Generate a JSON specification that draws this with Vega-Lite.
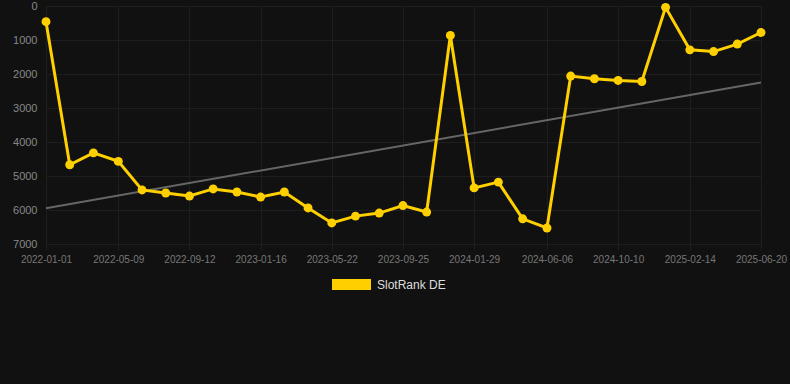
{
  "$schema": "https://vega.github.io/schema/vega-lite/v6.json",
  "width": 715,
  "height": 238,
  "autosize": {"type": "none"},
  "padding": {"left": 46, "top": 6, "right": 29, "bottom": 140},
  "background": "#111111",
  "config": {
    "view": {"stroke": null},
    "font": "Liberation Sans",
    "axis": {"gridColor": "#1e1e1e", "gridWidth": 1, "domain": false, "labelFont": "Liberation Sans"}
  },
  "datasets": {
    "rank": [
      {"date": "2022-01-01", "rank": 460, "series": "SlotRank DE"},
      {"date": "2022-02-12", "rank": 4670, "series": "SlotRank DE"},
      {"date": "2022-03-26", "rank": 4320, "series": "SlotRank DE"},
      {"date": "2022-05-09", "rank": 4570, "series": "SlotRank DE"},
      {"date": "2022-06-20", "rank": 5410, "series": "SlotRank DE"},
      {"date": "2022-08-01", "rank": 5500, "series": "SlotRank DE"},
      {"date": "2022-09-12", "rank": 5590, "series": "SlotRank DE"},
      {"date": "2022-10-24", "rank": 5380, "series": "SlotRank DE"},
      {"date": "2022-12-05", "rank": 5470, "series": "SlotRank DE"},
      {"date": "2023-01-16", "rank": 5620, "series": "SlotRank DE"},
      {"date": "2023-02-27", "rank": 5470, "series": "SlotRank DE"},
      {"date": "2023-04-10", "rank": 5940, "series": "SlotRank DE"},
      {"date": "2023-05-22", "rank": 6380, "series": "SlotRank DE"},
      {"date": "2023-07-03", "rank": 6180, "series": "SlotRank DE"},
      {"date": "2023-08-14", "rank": 6090, "series": "SlotRank DE"},
      {"date": "2023-09-25", "rank": 5870, "series": "SlotRank DE"},
      {"date": "2023-11-06", "rank": 6060, "series": "SlotRank DE"},
      {"date": "2023-12-18", "rank": 865, "series": "SlotRank DE"},
      {"date": "2024-01-29", "rank": 5350, "series": "SlotRank DE"},
      {"date": "2024-03-12", "rank": 5180, "series": "SlotRank DE"},
      {"date": "2024-04-24", "rank": 6260, "series": "SlotRank DE"},
      {"date": "2024-06-06", "rank": 6530, "series": "SlotRank DE"},
      {"date": "2024-07-18", "rank": 2060, "series": "SlotRank DE"},
      {"date": "2024-08-29", "rank": 2140, "series": "SlotRank DE"},
      {"date": "2024-10-10", "rank": 2190, "series": "SlotRank DE"},
      {"date": "2024-11-21", "rank": 2220, "series": "SlotRank DE"},
      {"date": "2025-01-02", "rank": 40, "series": "SlotRank DE"},
      {"date": "2025-02-14", "rank": 1290, "series": "SlotRank DE"},
      {"date": "2025-03-28", "rank": 1340, "series": "SlotRank DE"},
      {"date": "2025-05-09", "rank": 1120, "series": "SlotRank DE"},
      {"date": "2025-06-20", "rank": 780, "series": "SlotRank DE"}
    ],
    "trend": [
      {"date": "2022-01-01", "rank": 5950},
      {"date": "2025-06-20", "rank": 2250}
    ]
  },
  "encoding": {
    "x": {
      "field": "date",
      "type": "temporal",
      "title": null,
      "scale": {
        "type": "utc",
        "nice": false,
        "domain": [
          {"year": 2022, "month": 1, "date": 1, "utc": true},
          {"year": 2025, "month": 6, "date": 20, "utc": true}
        ]
      },
      "axis": {
        "format": "%Y-%m-%d",
        "values": [
          {"year": 2022, "month": 1, "date": 1, "utc": true},
          {"year": 2022, "month": 5, "date": 9, "utc": true},
          {"year": 2022, "month": 9, "date": 12, "utc": true},
          {"year": 2023, "month": 1, "date": 16, "utc": true},
          {"year": 2023, "month": 5, "date": 22, "utc": true},
          {"year": 2023, "month": 9, "date": 25, "utc": true},
          {"year": 2024, "month": 1, "date": 29, "utc": true},
          {"year": 2024, "month": 6, "date": 6, "utc": true},
          {"year": 2024, "month": 10, "date": 10, "utc": true},
          {"year": 2025, "month": 2, "date": 14, "utc": true},
          {"year": 2025, "month": 6, "date": 20, "utc": true}
        ],
        "labelColor": "#777777",
        "labelFontSize": 10,
        "tickColor": "#1e1e1e",
        "tickSize": 6,
        "labelPadding": 4,
        "labelOverlap": false,
        "labelFlush": false
      }
    },
    "y": {
      "field": "rank",
      "type": "quantitative",
      "scale": {"domain": [0, 7000], "reverse": true, "nice": false},
      "title": null,
      "axis": {
        "values": [0, 1000, 2000, 3000, 4000, 5000, 6000, 7000],
        "format": "d",
        "labelOverlap": false,
        "labelColor": "#888888",
        "labelFontSize": 11,
        "ticks": false,
        "labelPadding": 9
      }
    }
  },
  "layer": [
    {
      "data": {"name": "trend"},
      "mark": {"type": "line", "color": "#666666", "strokeWidth": 2}
    },
    {
      "data": {"name": "rank"},
      "mark": {"type": "line", "strokeWidth": 3},
      "encoding": {
        "color": {
          "field": "series",
          "type": "nominal",
          "scale": {"range": ["#FFD000"]},
          "legend": {
            "title": null,
            "orient": "none",
            "legendX": 286,
            "legendY": 259,
            "padding": 0,
            "symbolType": "M-1,-0.282L1,-0.282L1,0.282L-1,0.282Z",
            "symbolSize": 1521,
            "symbolFillColor": "#FFD000",
            "symbolStrokeWidth": 0,
            "symbolOpacity": 1,
            "labelColor": "#dddddd",
            "labelFontSize": 12,
            "labelOffset": 6
          }
        }
      }
    },
    {
      "data": {"name": "rank"},
      "mark": {"type": "point", "filled": true, "size": 80, "opacity": 1},
      "encoding": {
        "color": {"field": "series", "type": "nominal"}
      }
    }
  ]
}
